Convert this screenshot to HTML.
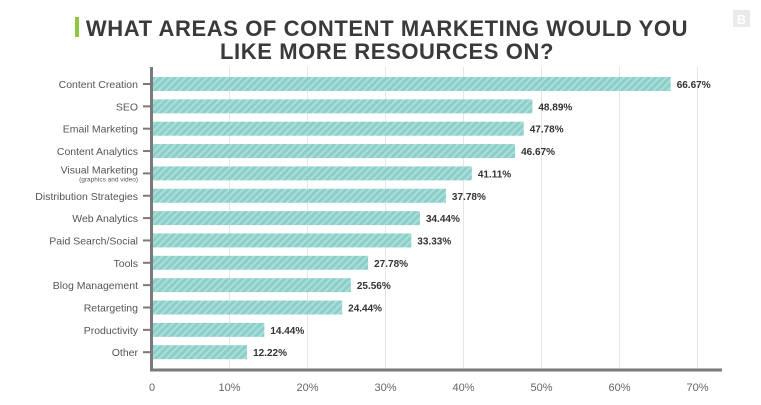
<!DOCTYPE html>
<html><head><meta charset="utf-8"><style>
body{margin:0;background:#fff;width:761px;height:400px;overflow:hidden;font-family:"Liberation Sans",sans-serif}
</style></head><body>
<svg width="761" height="400" xmlns="http://www.w3.org/2000/svg">
<defs>
<pattern id="h" width="5" height="5" patternUnits="userSpaceOnUse" patternTransform="rotate(45)">
<rect width="5" height="5" fill="#8ccfca"/><rect width="2" height="5" fill="#acdeda"/>
</pattern>
</defs>
<rect x="75" y="17" width="4" height="20" fill="#8dc63f"/>
<text x="387" y="36" text-anchor="middle" font-size="22" font-weight="bold" fill="#3a3a3c" letter-spacing="0.6">WHAT AREAS OF CONTENT MARKETING WOULD YOU</text>
<text x="387" y="59" text-anchor="middle" font-size="22" font-weight="bold" fill="#3a3a3c" letter-spacing="0.6">LIKE MORE RESOURCES ON?</text>
<rect x="733" y="10" width="17" height="17" fill="#e8eaec"/>
<text x="741.5" y="24" text-anchor="middle" font-size="13" font-weight="bold" fill="#fff">B</text>
<g stroke="#e6e6e6" stroke-width="1">
<line x1="229.5" y1="67" x2="229.5" y2="369"/><line x1="307.5" y1="67" x2="307.5" y2="369"/>
<line x1="385.5" y1="67" x2="385.5" y2="369"/><line x1="463.5" y1="67" x2="463.5" y2="369"/>
<line x1="541.5" y1="67" x2="541.5" y2="369"/><line x1="619.5" y1="67" x2="619.5" y2="369"/>
<line x1="697.5" y1="67" x2="697.5" y2="369"/>
</g>
<g id="bars" font-size="10" font-weight="bold" fill="#333"></g>
<g font-size="10.5" fill="#555" text-anchor="end" id="labels"></g>
<line x1="151.5" y1="67" x2="151.5" y2="371" stroke="#7a7a7a" stroke-width="3"/>
<line x1="150" y1="370" x2="722" y2="370" stroke="#7a7a7a" stroke-width="3"/>
<g font-size="11" fill="#666" text-anchor="middle">
<text x="152" y="391">0</text><text x="229.5" y="391">10%</text><text x="307.5" y="391">20%</text>
<text x="385.5" y="391">30%</text><text x="463.5" y="391">40%</text><text x="541.5" y="391">50%</text>
<text x="619.5" y="391">60%</text><text x="697.5" y="391">70%</text>
</g>
<script>
var d=[["Content Creation",66.67],["SEO",48.89],["Email Marketing",47.78],["Content Analytics",46.67],["Visual Marketing",41.11],["Distribution Strategies",37.78],["Web Analytics",34.44],["Paid Search/Social",33.33],["Tools",27.78],["Blog Management",25.56],["Retargeting",24.44],["Productivity",14.44],["Other",12.22]];
var ns="http://www.w3.org/2000/svg",b=document.getElementById("bars"),l=document.getElementById("labels");
function el(t,a,p,tx){var e=document.createElementNS(ns,t);for(var k in a)e.setAttribute(k,a[k]);if(tx)e.textContent=tx;p.appendChild(e);return e;}
d.forEach(function(r,i){var y=84+i*22.35,w=r[1]*7.78;
el("rect",{x:152,y:y-7,width:w,height:14,fill:"url(#h)"},b);
el("text",{x:152+w+6,y:y+4},b,r[1].toFixed(2)+"%");
el("line",{x1:143,y1:y,x2:151,y2:y,stroke:"#7a7a7a","stroke-width":2},l);
el("text",{x:138,y:(i==4?y:y+4)},l,r[0]);
if(i==4)el("text",{x:138,y:y+8,"font-size":"6.5"},l,"(graphics and video)");
});
</script>
</svg>
</body></html>
